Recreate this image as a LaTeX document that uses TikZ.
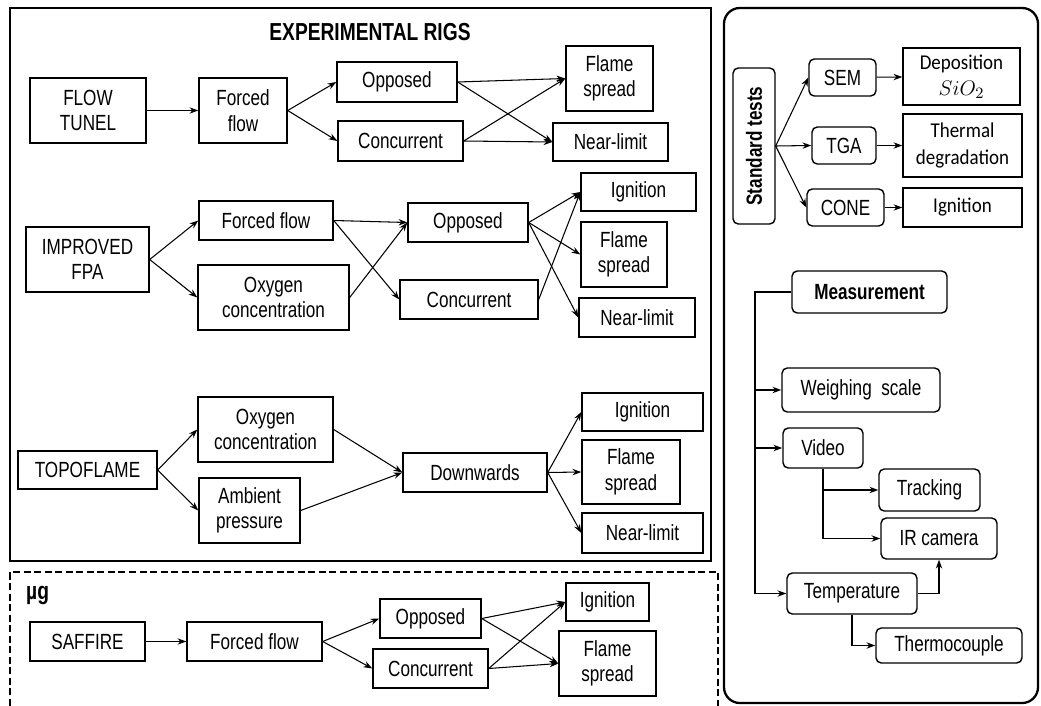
\documentclass[tikz,border=0pt]{standalone}
\usepackage{fontspec}
\setmainfont{Liberation Sans}[FakeStretch=0.78]
\newfontfamily\calibfont{Carlito}[FakeStretch=0.9]
\usetikzlibrary{arrows.meta, calc, positioning}

\tikzset{
  box/.style={draw, rectangle, align=center, inner sep=1pt, line width=0.8pt},
  rbox/.style={box, rounded corners=3pt},
  cbox/.style={box, font=\fontsize{12}{15}\selectfont\calibfont},
  head/.style={font=\fontsize{14}{16}\selectfont\bfseries},
  sz/.style 2 args={minimum width=#1*0.02cm, minimum height=#2*0.02cm},
  link/.style={->, line width=0.6pt},
  tree/.style={->, line width=0.9pt},
}

\begin{document}
\begin{tikzpicture}[x=0.02cm, y=-0.02cm, >={Stealth[length=5pt,width=3.6pt]},
    font=\fontsize{12.5}{14.5}\selectfont]
  \useasboundingbox (0,0) rectangle (1041,706);

  % frames
  \draw[line width=1.3pt] (10,8) rectangle (711,561);
  \draw[line width=1pt, dash pattern=on 4pt off 2pt] (10,706) -- (10,572) -- (718,572) -- (718,706);
  \draw[line width=1.3pt, rounded corners=9pt] (724,8) rectangle (1038,703);

  \node[head] (rigs) at (370,32) {EXPERIMENTAL RIGS};
  \node[head, anchor=west] (mug) at (20,595) {µg};

  % flow tunnel
  \node[box, sz={116}{65}] (ft)   at (88,110.5)  {FLOW\\TUNEL};
  \node[box, sz={88}{65}]  (ff_1) at (243,110.5) {Forced\\flow};
  \node[box, sz={120}{40}] (op_1) at (397,82)    {Opposed};
  \node[box, sz={125}{40}] (co_1) at (400.5,141) {Concurrent};
  \node[box, sz={87}{65}]  (fs_1) at (609.5,78.5) {Flame\\spread};
  \node[box, sz={115}{38}] (nl_1) at (610.5,142) {Near-limit};

  \path[link] (ft) edge (ff_1)
    (ff_1.east) edge (op_1.west) edge (co_1.west)
    (op_1.east) edge (fs_1.west) edge (nl_1.west)
    (co_1.east) edge (fs_1.west) edge (nl_1.west);

  % improved FPA
  \node[box, sz={123}{65}] (fpa)  at (87.5,259.5) {IMPROVED\\FPA};
  \node[box, sz={134}{39}] (ff_2) at (266,220.5)  {Forced flow};
  \node[box, sz={151}{65}] (ox_2) at (273.5,297.5) {Oxygen\\concentration};
  \node[box, sz={120}{39}] (op_2) at (468,222.5)  {Opposed};
  \node[box, sz={138}{39}] (co_2) at (469,299.5)  {Concurrent};
  \node[box, sz={115}{38}] (ig_2) at (638.5,192)  {Ignition};
  \node[box, sz={86}{65}]  (fs_2) at (624,254.5)  {Flame\\spread};
  \node[box, sz={116}{39}] (nl_2) at (637,317.5)  {Near-limit};

  \path[link] (fpa.east) edge (ff_2.west) edge (ox_2.west)
    (ff_2.east) edge (op_2.west) edge (co_2.west)
    (ox_2.east) edge (op_2.west)
    (op_2.east) edge (ig_2.west) edge (fs_2.west) edge (nl_2.west)
    (co_2.east) edge (ig_2.west);

  % topoflame
  \node[box, sz={139}{38}] (topo) at (87.5,470)   {TOPOFLAME};
  \node[box, sz={135}{65}] (ox_3) at (265.5,429.5) {Oxygen\\concentration};
  \node[box, sz={101}{65}] (amb)  at (249.5,510.5) {Ambient\\pressure};
  \node[box, sz={144}{39}] (down) at (475,472.5)  {Downwards};
  \node[box, sz={121}{38}] (ig_3) at (642.5,412)  {Ignition};
  \node[box, sz={98}{64}]  (fs_3) at (631,472)    {Flame\\spread};
  \node[box, sz={121}{40}] (nl_3) at (642.5,533)  {Near-limit};

  \path[link] (topo.east) edge (ox_3.west) edge (amb.west)
    (ox_3.east) edge (down.west)
    (amb.east) edge (down.west)
    (down.east) edge (ig_3.west) edge (fs_3.west) edge (nl_3.west);

  % microgravity
  \node[box, sz={115}{39}] (saf)  at (87.5,641.5)  {SAFFIRE};
  \node[box, sz={135}{39}] (ff_4) at (254.5,641.5) {Forced flow};
  \node[box, sz={101}{39}] (op_4) at (430.5,618.5) {Opposed};
  \node[box, sz={115}{39}] (co_4) at (430.5,668.5) {Concurrent};
  \node[box, sz={83}{38}]  (ig_4) at (607.5,602)   {Ignition};
  \node[box, sz={97}{65}]  (fs_4) at (607.5,663.5) {Flame\\spread};

  \path[link] (saf) edge (ff_4)
    (ff_4.east) edge (op_4.west) edge (co_4.west)
    (op_4.east) edge (ig_4.west) edge (fs_4.west)
    (co_4.east) edge (ig_4.west) edge (fs_4.west);

  % standard tests
  \node[rbox, sz={42}{156}] (std) at (754,146) {\rotatebox{90}{\bfseries Standard tests}};
  \node[rbox, sz={67}{37}]  (sem)  at (842.5,77.5)  {SEM};
  \node[rbox, sz={64}{37}]  (tga)  at (844,145.5)   {TGA};
  \node[rbox, sz={77}{37}]  (cone) at (845.5,207.5) {CONE};
  \node[cbox, sz={117}{57}] (dep)   at (961.5,76.5)  {Deposition\\\fontsize{13}{15}\selectfont$SiO_2$};
  \node[cbox, sz={119}{63}] (therm) at (962.5,145.5) {Thermal\\degradation};
  \node[cbox, sz={119}{39}] (ig_r)  at (962.5,207.5) {Ignition};

  \path[link] (std.east) edge (sem.west) edge (tga.west) edge (cone.west)
    (sem) edge (dep)
    (tga) edge (therm)
    (cone) edge (ig_r);

  % measurement tree
  \node[rbox, sz={155}{42}] (meas)  at (869.5,292) {\bfseries Measurement};
  \node[rbox, sz={158}{44}] (weigh) at (861,390)   {Weighing~~scale};
  \node[rbox, sz={80}{40}]  (video) at (823,448)   {Video};
  \node[rbox, sz={101}{42}] (track) at (929.5,490) {Tracking};
  \node[rbox, sz={116}{41}] (ir)    at (939,538.5) {IR camera};
  \node[rbox, sz={130}{41}] (temp)  at (852,593.5) {Temperature};
  \node[rbox, sz={146}{35}] (tc)    at (949,645.5) {Thermocouple};

  \coordinate (trunk) at (755,292);
  \draw[tree] (meas.west) -- (trunk) |- (temp.west);
  \draw[tree] (trunk |- weigh.west) -- (weigh.west);
  \draw[tree] (trunk |- video.west) -- (video.west);
  \draw[tree] (video.south) |- (ir.west);
  \draw[tree] (video.south |- track.west) -- (track.west);
  \draw[tree] (temp.east) -| (ir.south);
  \draw[tree] (temp.south) |- (tc.west);
\end{tikzpicture}
\end{document}
